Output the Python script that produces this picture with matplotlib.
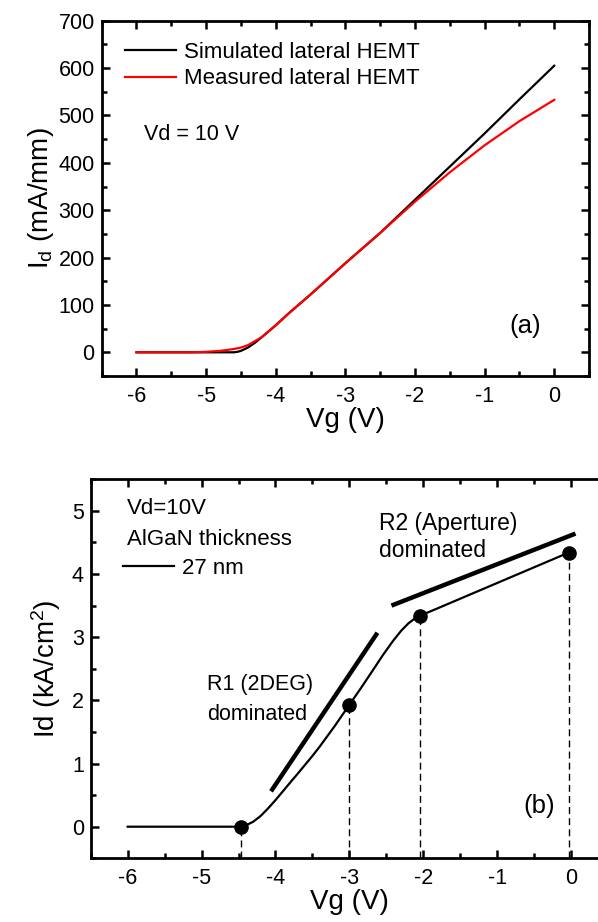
import matplotlib
matplotlib.use("Agg")
import matplotlib.pyplot as plt
from matplotlib.ticker import MultipleLocator

plt.rcParams['font.family'] = ['Liberation Sans', 'DejaVu Sans']
plt.rcParams['mathtext.fontset'] = 'custom'
plt.rcParams['mathtext.rm'] = 'Liberation Sans'
plt.rcParams['mathtext.it'] = 'Liberation Sans:italic'
plt.rcParams['axes.unicode_minus'] = False

# (a) transfer curves of the lateral HEMT, Vd = 10 V
vg_sim = [-6.0, -5.0, -4.6, -4.55, -4.5, -4.4, -4.3, -4.2, -4.0, -3.8, -3.5,
          -3.0, -2.5, -2.0, -1.5, -1.0, -0.5, 0.0]
id_sim = [0, 0, 0, 1, 3, 10, 20, 32, 57, 84, 122, 188, 252, 322, 392, 462, 534, 605]

vg_meas = [-6.0, -5.2, -5.0, -4.8, -4.6, -4.5, -4.4, -4.2, -4.0, -3.8, -3.5,
           -3.0, -2.5, -2.0, -1.5, -1.0, -0.5, 0.0]
id_meas = [0, 0, 1, 3, 7, 10, 15, 32, 57, 84, 122, 188, 252, 318, 380, 437, 488, 533]

# (b) current density, AlGaN thickness 27 nm
vg_b = [-6.0, -5.0, -4.47, -4.4, -4.3, -4.2, -4.1, -4.0, -3.9, -3.8, -3.67,
        -3.5, -3.4, -3.2, -3.0, -2.84, -2.68, -2.55, -2.41, -2.3, -2.2, -2.12,
        -2.05, -1.9, -0.03]
id_b = [0, 0, 0, 0.02, 0.08, 0.17, 0.29, 0.42, 0.56, 0.70, 0.88,
        1.12, 1.27, 1.59, 1.93, 2.20, 2.48, 2.71, 2.94, 3.10, 3.22, 3.29,
        3.34, 3.41, 4.34]

vg_marks = [-4.47, -3.0, -2.05, -0.03]
id_marks = [0.0, 1.93, 3.34, 4.34]

r1_vg = [-4.06, -2.62]
r1_id = [0.56, 3.07]
r2_vg = [-2.43, 0.06]
r2_id = [3.50, 4.64]

x_ticks = [-6, -5, -4, -3, -2, -1, 0]
ya_ticks = [0, 100, 200, 300, 400, 500, 600, 700]
yb_ticks = [0, 1, 2, 3, 4, 5]

fig = plt.figure(figsize=(5.98, 9.22), dpi=100)

ax1 = fig.add_axes([0.170, 0.5922, 0.815, 0.3853])
ax2 = fig.add_axes([0.1517, 0.0691, 0.865, 0.4111])


def style_axes(ax, right=True):
    for s in ax.spines.values():
        s.set_linewidth(2.0)
    ax.tick_params(which='both', direction='in', top=True, right=right,
                   width=1.8, labelsize=15.5)
    ax.tick_params(which='major', length=5.5)
    ax.tick_params(which='minor', length=3.5)
    ax.tick_params(axis='x', pad=7)
    ax.tick_params(axis='y', pad=5)


# ---- panel (a)
ax1.plot(vg_sim, id_sim, color='black', lw=1.6, label='Simulated lateral HEMT')
ax1.plot(vg_meas, id_meas, color='#ff0000', lw=1.6, label='Measured lateral HEMT')
ax1.set_xlim(-6.5, 0.5)
ax1.set_ylim(-50, 700)
ax1.set_xticks(x_ticks)
ax1.set_yticks(ya_ticks)
ax1.xaxis.set_minor_locator(MultipleLocator(0.5))
ax1.yaxis.set_minor_locator(MultipleLocator(50))
style_axes(ax1)
ax1.set_xlabel('Vg (V)', fontsize=20, labelpad=0)
ax1.set_ylabel(r'I$_\mathrm{d}$ (mA/mm)', fontsize=20, labelpad=2)
ax1.legend(loc='center left', bbox_to_anchor=(0.048, 0.874), frameon=False,
           fontsize=16, borderpad=0, handlelength=2.3, handletextpad=0.35,
           labelspacing=0.25, borderaxespad=0)
ax1.text(-5.89, 459, 'Vd = 10 V', fontsize=15.5, ha='left', va='center')
ax1.text(-0.41, 54.5, '(a)', fontsize=18.5, ha='center', va='center')

# ---- panel (b)
ax2.vlines(vg_marks, -0.5, id_marks, colors='black', lw=1.0,
           linestyles=(0, (5, 3)))
ax2.plot(vg_b, id_b, color='black', lw=1.6, label='27 nm')
ax2.plot(vg_marks, id_marks, 'o', color='black', ms=9.5)
ax2.plot(r1_vg, r1_id, color='black', lw=3.2, solid_capstyle='butt')
ax2.plot(r2_vg, r2_id, color='black', lw=3.2, solid_capstyle='butt')
ax2.set_xlim(-6.5, 0.5)
ax2.set_ylim(-0.5, 5.5)
ax2.set_xticks(x_ticks)
ax2.set_yticks(yb_ticks)
ax2.xaxis.set_minor_locator(MultipleLocator(0.5))
ax2.yaxis.set_minor_locator(MultipleLocator(0.5))
style_axes(ax2, right=False)
ax2.set_xlabel('Vg (V)', fontsize=20, labelpad=0)
ax2.set_ylabel(r'Id (kA/cm$^2$)', fontsize=20, labelpad=6)
ax2.legend(loc='center left', bbox_to_anchor=(0.063, 0.765), frameon=False,
           fontsize=16, borderpad=0, handlelength=2.3, handletextpad=0.35,
           borderaxespad=0)
ax2.text(-6.01, 5.03, 'Vd=10V', fontsize=16, ha='left', va='center')
ax2.text(-6.01, 4.54, 'AlGaN thickness', fontsize=16, ha='left', va='center')
ax2.text(-2.60, 4.80, 'R2 (Aperture)', fontsize=16.5, ha='left', va='center')
ax2.text(-2.60, 4.38, 'dominated', fontsize=16.5, ha='left', va='center')
ax2.text(-4.92, 2.25, 'R1 (2DEG)', fontsize=15.5, ha='left', va='center')
ax2.text(-4.92, 1.77, 'dominated', fontsize=15.5, ha='left', va='center')
ax2.text(-0.43, 0.33, '(b)', fontsize=18.5, ha='center', va='center')

fig.savefig('out.png', dpi=100)
